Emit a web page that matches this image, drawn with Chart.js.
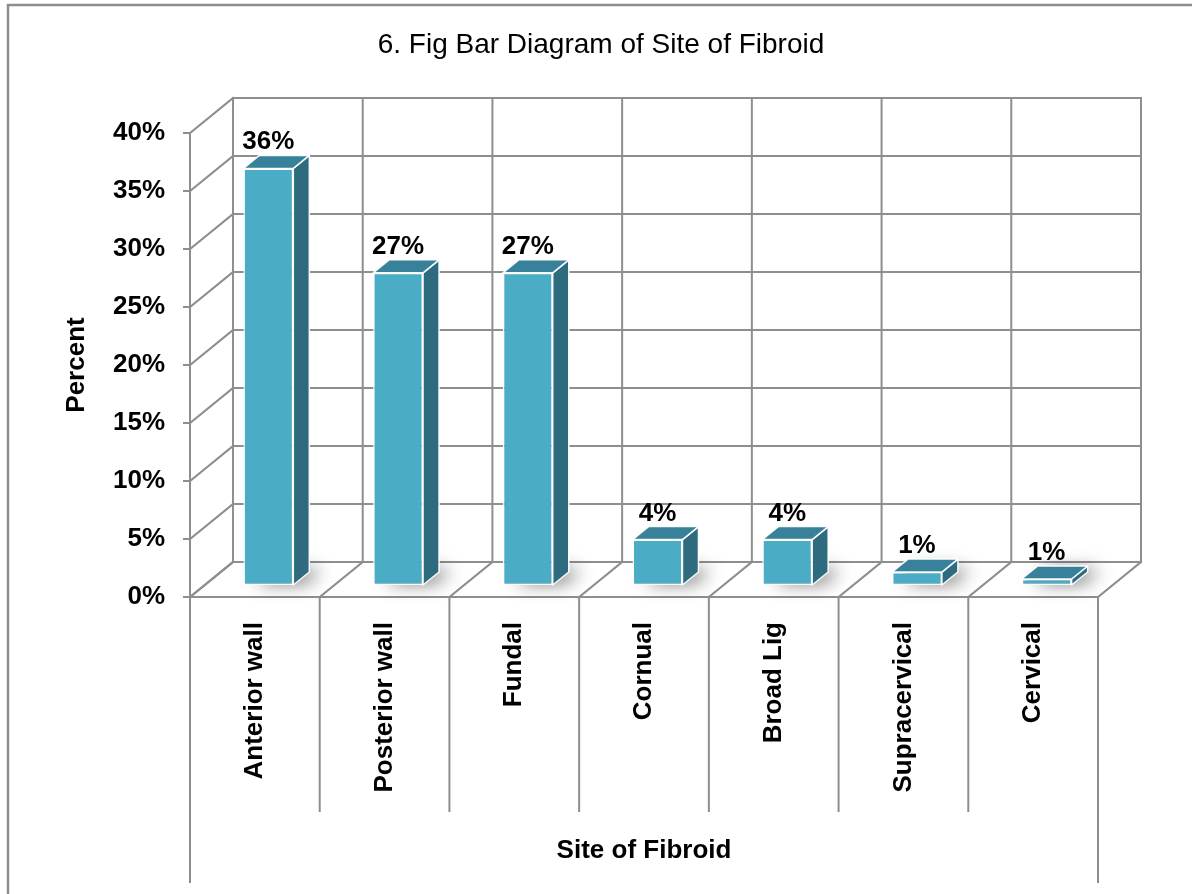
<!DOCTYPE html>
<html>
<head>
<meta charset="utf-8">
<script src="https://cdn.jsdelivr.net/npm/chart.js@4.4.1/dist/chart.umd.min.js"></script>
<style>
  html, body { margin: 0; padding: 0; background: #ffffff; }
  canvas { display: block; }
</style>
</head>
<body>
<canvas id="c" width="1192" height="894"></canvas>
<script>
// ---- data ----
const categories = ['Anterior wall', 'Posterior wall', 'Fundal', 'Cornual', 'Broad Lig', 'Supracervical', 'Cervical'];
const percentValues = [36, 27, 27, 4, 4, 1.2, 0.6];
const yTickValues = [0, 5, 10, 15, 20, 25, 30, 35, 40];
const chartTitle = '6. Fig Bar Diagram of Site of Fibroid';
const xAxisTitle = 'Site of Fibroid';
const yAxisTitle = 'Percent';

// ---- style ----
const FONT = '"Liberation Sans", Arial, Helvetica, sans-serif';
const GRID = '#8e8e8e';
const FRONT = '#4bacc6';
const TOP = '#38819a';
const SIDE = '#2f6b7e';
const WALL = { dx: 43, dy: -35 };        // depth of the floor / side wall
const BARPOS = { dx: 13.5, dy: -11 };    // bar front plane offset into depth
const BARD = { dx: 16, dy: -13 };        // bar depth

function line(ctx, x1, y1, x2, y2) {
  ctx.beginPath(); ctx.moveTo(x1, y1); ctx.lineTo(x2, y2); ctx.stroke();
}
function poly(ctx, pts) {
  ctx.beginPath();
  ctx.moveTo(pts[0][0], pts[0][1]);
  for (let i = 1; i < pts.length; i++) ctx.lineTo(pts[i][0], pts[i][1]);
  ctx.closePath();
}

const frame3d = {
  id: 'frame3d',
  beforeDraw(chart) {
    const { ctx, chartArea: a, scales: { x, y } } = chart;
    ctx.save();
    ctx.strokeStyle = GRID;
    ctx.lineWidth = 2;
    ctx.lineCap = 'square';
    // outer frame
    ctx.lineWidth = 2.5;
    ctx.strokeRect(8, 5, 1400, 1400);
    ctx.lineWidth = 2;
    // side wall diagonals + back wall horizontal lines
    yTickValues.forEach(v => {
      const py = y.getPixelForValue(v);
      line(ctx, a.left, py, a.left + WALL.dx, py + WALL.dy);
      line(ctx, a.left + WALL.dx, py + WALL.dy, a.right + WALL.dx, py + WALL.dy);
    });
    // category boundaries
    const n = categories.length;
    const bounds = [a.left];
    for (let i = 1; i < n; i++) bounds.push((x.getPixelForValue(i - 1) + x.getPixelForValue(i)) / 2);
    bounds.push(a.right);
    bounds.forEach((px, i) => {
      const yTop = y.getPixelForValue(40);
      line(ctx, px + WALL.dx, yTop + WALL.dy, px + WALL.dx, a.bottom + WALL.dy); // back wall vertical
      line(ctx, px, a.bottom, px + WALL.dx, a.bottom + WALL.dy);                 // floor diagonal
      const outer = (i === 0 || i === n);
      line(ctx, px, a.bottom, px, outer ? 882 : 811);                          // table lines
    });
    // floor front edge
    line(ctx, a.left, a.bottom, a.right, a.bottom);
    ctx.restore();
  },
  beforeDatasetDraw(chart, args) {
    const { ctx } = chart;
    const meta = chart.getDatasetMeta(args.index);
    // soft floor shadows
    ctx.save();
    ctx.translate(BARPOS.dx, BARPOS.dy);
    meta.data.forEach(el => {
      const x1 = el.x - el.width / 2, x2 = el.x + el.width / 2, b = el.base;
      ctx.save();
      ctx.shadowColor = 'rgba(0,0,0,0.6)';
      ctx.shadowBlur = 18;
      ctx.shadowOffsetX = 12;
      ctx.shadowOffsetY = -2;
      ctx.fillStyle = '#9a9a9a';
      poly(ctx, [[x1, b], [x2, b], [x2 + BARD.dx, b + BARD.dy], [x1 + BARD.dx, b + BARD.dy]]);
      ctx.fill();
      ctx.restore();
    });
    ctx.restore();
    ctx.save();
    ctx.translate(BARPOS.dx, BARPOS.dy);
  },
  afterDatasetDraw(chart, args) {
    const { ctx } = chart;
    const meta = chart.getDatasetMeta(args.index);
    const data = chart.data.datasets[args.index].data;
    ctx.lineWidth = 1.5;
    ctx.strokeStyle = 'rgba(255,255,255,0.95)';
    ctx.lineJoin = 'round';
    meta.data.forEach((el, i) => {
      const x1 = el.x - el.width / 2, x2 = el.x + el.width / 2, t = el.y, b = el.base;
      // side face
      poly(ctx, [[x2, t], [x2 + BARD.dx, t + BARD.dy], [x2 + BARD.dx, b + BARD.dy], [x2, b]]);
      ctx.fillStyle = SIDE; ctx.fill(); ctx.stroke();
      // top face
      poly(ctx, [[x1, t], [x1 + BARD.dx, t + BARD.dy], [x2 + BARD.dx, t + BARD.dy], [x2, t]]);
      ctx.fillStyle = TOP; ctx.fill(); ctx.stroke();
      // value label
      ctx.fillStyle = '#000';
      ctx.font = 'bold 26px ' + FONT;
      ctx.textAlign = 'center';
      ctx.textBaseline = 'alphabetic';
      ctx.fillText(Math.round(data[i]) + '%', el.x, t - 19);
    });
    ctx.restore();
  }
};

new Chart(document.getElementById('c'), {
  type: 'bar',
  data: {
    labels: categories,
    datasets: [{
      data: percentValues,
      backgroundColor: FRONT,
      borderColor: 'rgba(255,255,255,0.95)',
      borderWidth: 1.5,
      borderSkipped: false,
      barPercentage: 0.385,
      categoryPercentage: 1.0
    }]
  },
  options: {
    responsive: false,
    devicePixelRatio: 1,
    animation: false,
    layout: { padding: { left: 10, right: 0, top: 0, bottom: 0 } },
    plugins: {
      legend: { display: false },
      tooltip: { enabled: false },
      title: {
        display: true,
        text: chartTitle,
        color: '#000',
        font: { family: FONT, size: 28, weight: 'normal' },
        padding: { top: 28, bottom: 71.4 }
      }
    },
    scales: {
      x: {
        grid: { display: false, drawTicks: false },
        border: { display: false },
        ticks: {
          autoSkip: false, minRotation: 90, maxRotation: 90, padding: 25,
          color: '#000', font: { family: FONT, size: 26, weight: 'bold' }
        },
        title: {
          display: true, text: xAxisTitle, color: '#000',
          font: { family: FONT, size: 26, weight: 'bold' },
          padding: { top: 0, bottom: 28 }
        },
        afterFit(s) { s.height = 297; }
      },
      y: {
        min: 0, max: 40,
        afterBuildTicks(s) { s.ticks = yTickValues.map(v => ({ value: v })); },
        grid: { drawOnChartArea: false, drawTicks: true, tickLength: 7, color: GRID, lineWidth: 2 },
        border: { display: true, color: GRID, width: 2 },
        ticks: {
          padding: 18, color: '#000',
          font: { family: FONT, size: 26, weight: 'bold' },
          callback: v => v + '%'
        },
        title: {
          display: true, text: yAxisTitle, color: '#000',
          font: { family: FONT, size: 26, weight: 'bold' },
          padding: { top: 51, bottom: 0 }
        },
        afterFit(s) { s.width = 180; }
      },
      yR: {
        position: 'right',
        display: true,
        grid: { display: false, drawTicks: false },
        border: { display: false },
        ticks: { display: false },
        afterFit(s) { s.width = 94; }
      }
    }
  },
  plugins: [frame3d]
});
</script>
</body>
</html>
